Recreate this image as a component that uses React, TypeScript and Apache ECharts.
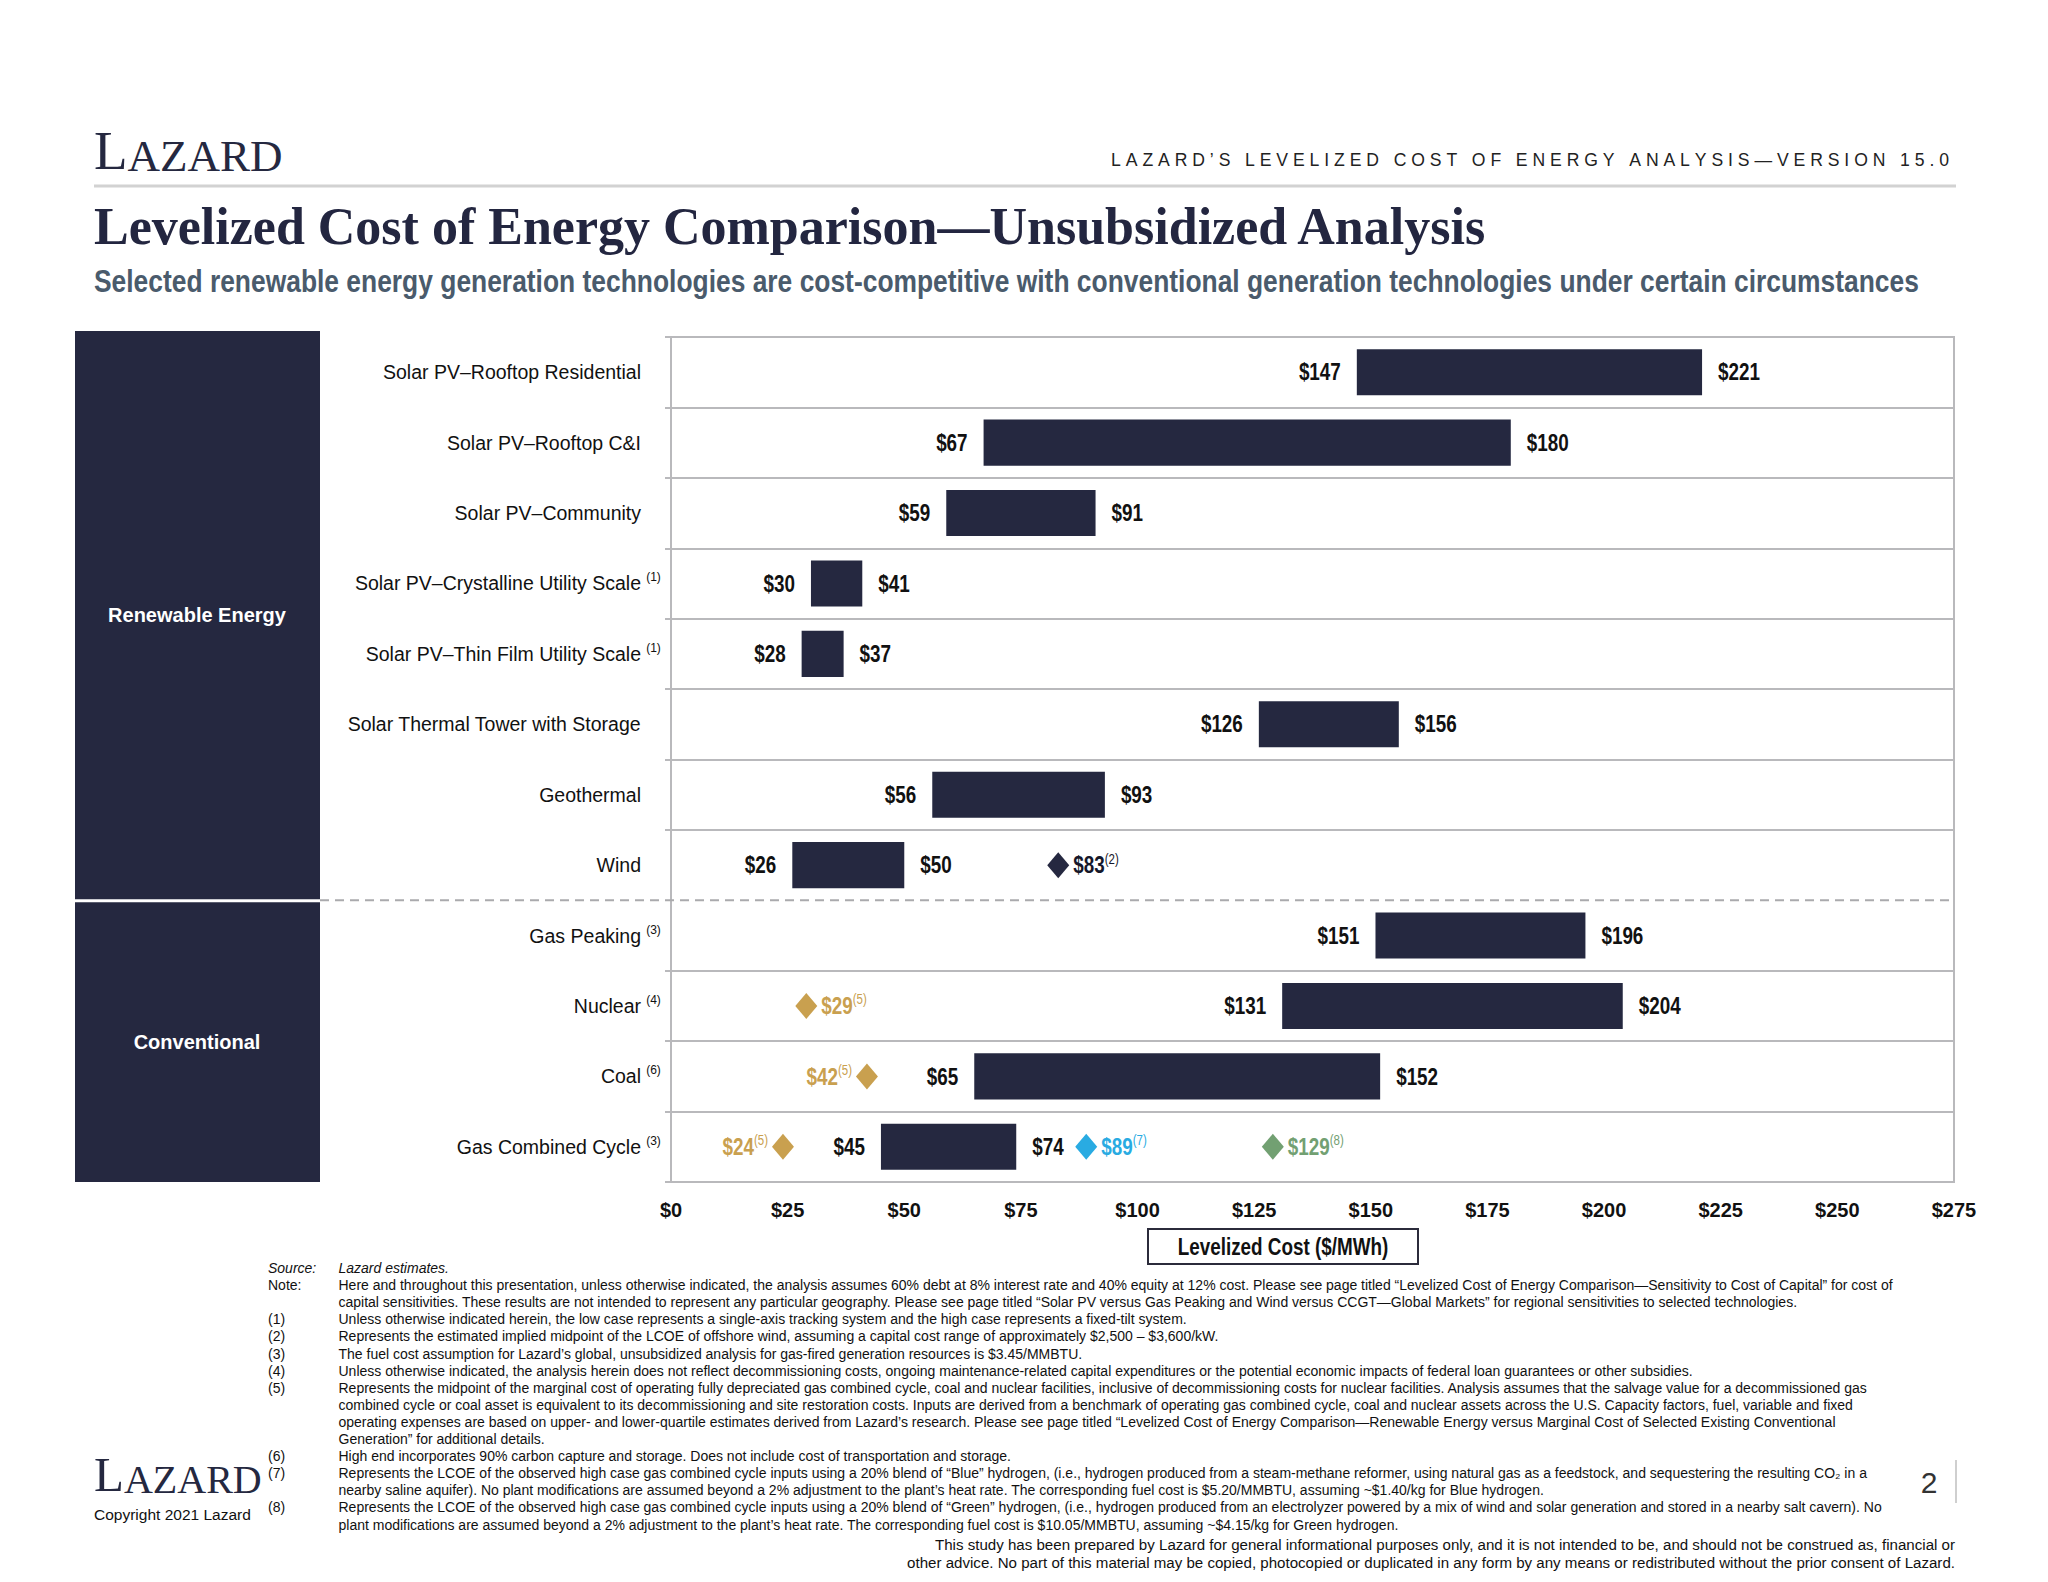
import React, { useEffect, useRef } from 'react';
import * as echarts from 'echarts';

// ---------------- DATA ----------------
const categories = [
  'Solar PV–Rooftop Residential',
  'Solar PV–Rooftop C&I',
  'Solar PV–Community',
  'Solar PV–Crystalline Utility Scale',
  'Solar PV–Thin Film Utility Scale',
  'Solar Thermal Tower with Storage',
  'Geothermal',
  'Wind',
  'Gas Peaking',
  'Nuclear',
  'Coal',
  'Gas Combined Cycle',
];
const categoryNotes = ['', '', '', '(1)', '(1)', '', '', '', '(3)', '(4)', '(6)', '(3)'];
const lowValues = [147, 67, 59, 30, 28, 126, 56, 26, 151, 131, 65, 45];
const highValues = [221, 180, 91, 41, 37, 156, 93, 50, 196, 204, 152, 74];

const markerCategories = ['Wind', 'Nuclear', 'Coal', 'Gas Combined Cycle', 'Gas Combined Cycle', 'Gas Combined Cycle'];
const markerValues = [83, 29, 42, 24, 89, 129];
const markerNotes = ['(2)', '(5)', '(5)', '(5)', '(7)', '(8)'];
const markerKinds = ['offshore', 'marginal', 'marginal', 'marginal', 'blueH2', 'greenH2'];

const groupNames = ['Renewable Energy', 'Conventional'];
const groupSizes = [8, 4];

const axisMin = 0;
const axisMax = 275;
const axisStep = 25;

const headerText = 'LAZARD’S LEVELIZED COST OF ENERGY ANALYSIS—VERSION 15.0';
const titleText = 'Levelized Cost of Energy Comparison—Unsubsidized Analysis';
const subtitleText =
  'Selected renewable energy generation technologies are cost-competitive with conventional generation technologies under certain circumstances';
const axisTitle = 'Levelized Cost ($/MWh)';

const footLabels = ['Source:', 'Note:', '', '(1)', '(2)', '(3)', '(4)', '(5)', '', '', '', '(6)', '(7)', '', '(8)', ''];
const footLines = [
  'Lazard estimates.',
  'Here and throughout this presentation, unless otherwise indicated, the analysis assumes 60% debt at 8% interest rate and 40% equity at 12% cost. Please see page titled “Levelized Cost of Energy Comparison—Sensitivity to Cost of Capital” for cost of',
  'capital sensitivities. These results are not intended to represent any particular geography. Please see page titled “Solar PV versus Gas Peaking and Wind versus CCGT—Global Markets” for regional sensitivities to selected technologies.',
  'Unless otherwise indicated herein, the low case represents a single-axis tracking system and the high case represents a fixed-tilt system.',
  'Represents the estimated implied midpoint of the LCOE of offshore wind, assuming a capital cost range of approximately $2,500 – $3,600/kW.',
  'The fuel cost assumption for Lazard’s global, unsubsidized analysis for gas-fired generation resources is $3.45/MMBTU.',
  'Unless otherwise indicated, the analysis herein does not reflect decommissioning costs, ongoing maintenance-related capital expenditures or the potential economic impacts of federal loan guarantees or other subsidies.',
  'Represents the midpoint of the marginal cost of operating fully depreciated gas combined cycle, coal and nuclear facilities, inclusive of decommissioning costs for nuclear facilities. Analysis assumes that the salvage value for a decommissioned gas',
  'combined cycle or coal asset is equivalent to its decommissioning and site restoration costs. Inputs are derived from a benchmark of operating gas combined cycle, coal and nuclear assets across the U.S. Capacity factors, fuel, variable and fixed',
  'operating expenses are based on upper- and lower-quartile estimates derived from Lazard’s research. Please see page titled “Levelized Cost of Energy Comparison—Renewable Energy versus Marginal Cost of Selected Existing Conventional',
  'Generation” for additional details.',
  'High end incorporates 90% carbon capture and storage. Does not include cost of transportation and storage.',
  'Represents the LCOE of the observed high case gas combined cycle inputs using a 20% blend of “Blue” hydrogen, (i.e., hydrogen produced from a steam-methane reformer, using natural gas as a feedstock, and sequestering the resulting CO₂ in a',
  'nearby saline aquifer). No plant modifications are assumed beyond a 2% adjustment to the plant’s heat rate. The corresponding fuel cost is $5.20/MMBTU, assuming ~$1.40/kg for Blue hydrogen.',
  'Represents the LCOE of the observed high case gas combined cycle inputs using a 20% blend of “Green” hydrogen, (i.e., hydrogen produced from an electrolyzer powered by a mix of wind and solar generation and stored in a nearby salt cavern). No',
  'plant modifications are assumed beyond a 2% adjustment to the plant’s heat rate. The corresponding fuel cost is $10.05/MMBTU, assuming ~$4.15/kg for Green hydrogen.',
];
const disclaimerLines = [
  'This study has been prepared by Lazard for general informational purposes only, and it is not intended to be, and should not be construed as, financial or',
  'other advice. No part of this material may be copied, photocopied or duplicated in any form by any means or redistributed without the prior consent of Lazard.',
];
const copyrightText = 'Copyright 2021 Lazard';
const pageNumber = '2';

// ---------------- STYLE ----------------
const NAVY = '#252840';
const GRIDLINE = '#b9b9bc';
const SANS = "'Liberation Sans', Arial, sans-serif";
const SERIF = "'Liberation Serif', 'Times New Roman', serif";
const NARROW_SX = 0.82; // Arial Narrow ≈ Arial compressed horizontally
const kindColors: Record<string, string> = {
  offshore: NAVY,
  marginal: '#C9A04F',
  blueH2: '#29ABE2',
  greenH2: '#72A072',
};
const kindLabelColors: Record<string, string> = {
  offshore: '#15172a',
  marginal: '#C9A04F',
  blueH2: '#29ABE2',
  greenH2: '#72A072',
};

const W = 2048;
const H = 1582;
const G = { left: 671, top: 337, width: 1283, height: 845 };
const rowH = G.height / categories.length;

function txt(x: number, y: number, text: string, o: any = {}) {
  const align = o.align || 'left';
  const va = o.va || 'middle';
  return {
    type: 'text',
    x,
    y,
    scaleX: o.sx || 1,
    silent: true,
    style: {
      text,
      fill: o.fill || '#111',
      fontSize: o.size || 13,
      fontFamily: o.family || SANS,
      fontWeight: o.weight || 'normal',
      fontStyle: o.style || 'normal',
      align,
      textAlign: align,
      verticalAlign: va,
      textVerticalAlign: va,
    },
  };
}

function spaced(s: string) {
  return s.split('').join('\u00A0');
}

function logo(x: number, yBottom: number, big: number, small: number) {
  return {
    type: 'text',
    x,
    y: yBottom,
    silent: true,
    style: {
      text: '{a|L}{b|AZARD}',
      align: 'left',
      verticalAlign: 'bottom',
      textAlign: 'left',
      textVerticalAlign: 'bottom',
      rich: {
        a: { fontSize: big, fontFamily: SERIF, fill: NAVY, color: NAVY, verticalAlign: 'bottom', lineHeight: big },
        b: { fontSize: small, fontFamily: SERIF, fill: NAVY, color: NAVY, verticalAlign: 'bottom', lineHeight: big },
      },
    },
  };
}

function buildOption() {
  const graphics: any[] = [];

  // header
  graphics.push(logo(94, 178, 55, 45));
  graphics.push(txt(1949, 160, spaced(headerText), { align: 'right', size: 17.6, fill: '#222' }));
  graphics.push({
    type: 'line',
    silent: true,
    shape: { x1: 94, y1: 186, x2: 1956, y2: 186 },
    style: { stroke: '#d2d2d2', lineWidth: 3 },
  });
  graphics.push(txt(94, 226, titleText, { size: 52, family: SERIF, weight: 'bold', fill: '#232640' }));
  graphics.push(txt(94, 281, subtitleText, { size: 31, weight: 'bold', fill: '#4A5B6C', sx: 0.852 }));

  // group boxes
  let startRow = 0;
  groupNames.forEach((name, gi) => {
    const y0 = gi === 0 ? G.top - 6 : G.top + startRow * rowH + 2;
    const y1 = gi === 0 ? G.top + (startRow + groupSizes[gi]) * rowH - 1 : G.top + (startRow + groupSizes[gi]) * rowH;
    graphics.push({
      type: 'rect',
      silent: true,
      shape: { x: 75, y: y0, width: 245, height: y1 - y0 },
      style: { fill: NAVY },
    });
    graphics.push(txt(197, (y0 + y1) / 2, name, { align: 'center', size: 20, weight: 'bold', fill: '#fff' }));
    startRow += groupSizes[gi];
  });
  // dashed separator between groups
  const sepY = G.top + groupSizes[0] * rowH;
  graphics.push({
    type: 'line',
    silent: true,
    z: 100,
    shape: { x1: 320, y1: sepY, x2: G.left + G.width, y2: sepY },
    style: { stroke: '#aaaaad', lineWidth: 2, lineDash: [9, 6] },
  });

  // axis title box
  graphics.push({
    type: 'rect',
    silent: true,
    shape: { x: 1148, y: 1229, width: 270, height: 35 },
    style: { fill: '#fff', stroke: '#2b2b3b', lineWidth: 2 },
  });
  graphics.push(txt(1283, 1247, axisTitle, { align: 'center', size: 23, weight: 'bold', fill: '#111', sx: NARROW_SX }));

  // footnotes
  footLines.forEach((line, i) => {
    const y = 1268 + i * 17.1;
    const it = i === 0 ? 'italic' : 'normal';
    if (footLabels[i]) graphics.push(txt(268, y, footLabels[i], { size: 14, style: it }));
    graphics.push(txt(338.5, y, line, { size: 14, style: it }));
  });
  disclaimerLines.forEach((line, i) => {
    graphics.push(txt(1955, 1544 + i * 18.5, line, { align: 'right', size: 15.1 }));
  });

  // bottom logo + copyright + page number
  graphics.push(logo(94, 1499, 49, 40));
  graphics.push(txt(94, 1514, copyrightText, { size: 15.5 }));
  graphics.push(txt(1929, 1482, pageNumber, { align: 'center', size: 30, fill: '#333' }));
  graphics.push({
    type: 'line',
    silent: true,
    shape: { x1: 1956, y1: 1460, x2: 1956, y2: 1503 },
    style: { stroke: '#cfcfcf', lineWidth: 2 },
  });

  const barData = categories.map((_, i) => [i, lowValues[i], highValues[i]]);
  const markerData = markerValues.map((v, i) => [v, categories.indexOf(markerCategories[i]), i]);

  const boundaryInterval = (index: number) => index !== groupSizes[0];

  const valueTextStyle = {
    fontSize: 23,
    fontWeight: 'bold',
    fontFamily: SANS,
    fill: '#111',
    verticalAlign: 'middle',
    textVerticalAlign: 'middle',
  };

  return {
    animation: false,
    backgroundColor: '#ffffff',
    grid: {
      left: G.left,
      top: G.top,
      width: G.width,
      height: G.height,
      show: true,
      backgroundColor: '#ffffff',
      borderColor: GRIDLINE,
      borderWidth: 2,
      containLabel: false,
      outerBoundsMode: 'none',
    },
    xAxis: {
      type: 'value',
      min: axisMin,
      max: axisMax,
      interval: axisStep,
      axisLine: { show: false },
      axisTick: { show: false },
      splitLine: { show: false },
      axisLabel: {
        formatter: (v: number) => '$' + v,
        margin: 18,
        fontSize: 20,
        fontWeight: 'bold',
        fontFamily: SANS,
        color: '#111',
      },
    },
    yAxis: {
      type: 'category',
      data: categories,
      inverse: true,
      axisLine: { show: true, lineStyle: { color: GRIDLINE, width: 2 } },
      axisTick: { show: true, length: 6, interval: boundaryInterval, lineStyle: { color: GRIDLINE, width: 2 } },
      splitLine: { show: true, interval: boundaryInterval, lineStyle: { color: GRIDLINE, width: 2 } },
      axisLabel: {
        margin: 7,
        interval: 0,
        formatter: (value: string, index: number) =>
          `{n|${value}}{s|${categoryNotes[index] || '\u00A0'}}`,
        rich: {
          n: { fontSize: 19.5, fontFamily: SANS, color: '#111', lineHeight: 24 },
          s: { fontSize: 12, fontFamily: SANS, color: '#111', verticalAlign: 'top', lineHeight: 12, width: 21, align: 'left', padding: [0, 0, 0, 2] },
        },
      },
    },
    graphic: { elements: graphics },
    series: [
      {
        type: 'custom',
        name: 'LCOE range',
        data: barData,
        encode: { x: [1, 2], y: 0 },
        renderItem: (params: any, api: any) => {
          const ci = api.value(0);
          const lo = api.value(1);
          const hi = api.value(2);
          const a = api.coord([lo, ci]);
          const b = api.coord([hi, ci]);
          const band = api.size([0, 1])[1];
          const h = band * 0.655;
          return {
            type: 'group',
            children: [
              {
                type: 'rect',
                shape: { x: a[0], y: a[1] - h / 2, width: b[0] - a[0], height: h },
                style: { fill: NAVY },
              },
              {
                type: 'text',
                x: a[0] - 16,
                y: a[1],
                scaleX: NARROW_SX,
                style: { ...valueTextStyle, text: '$' + lo, align: 'right', textAlign: 'right' },
              },
              {
                type: 'text',
                x: b[0] + 16,
                y: a[1],
                scaleX: NARROW_SX,
                style: { ...valueTextStyle, text: '$' + hi, align: 'left', textAlign: 'left' },
              },
            ],
          };
        },
        z: 3,
      },
      {
        type: 'custom',
        name: 'Reference points',
        data: markerData,
        encode: { x: 0, y: 1 },
        renderItem: (params: any, api: any) => {
          const v = api.value(0);
          const ci = api.value(1);
          const i = api.value(2);
          const kind = markerKinds[i];
          const p = api.coord([v, ci]);
          const barLow = lowValues[ci];
          const side = v < barLow && barLow - v < 30 ? 'left' : 'right';
          const c = kindLabelColors[kind];
          const hw = 11;
          const hh = 13;
          return {
            type: 'group',
            children: [
              {
                type: 'polygon',
                shape: { points: [[p[0], p[1] - hh], [p[0] + hw, p[1]], [p[0], p[1] + hh], [p[0] - hw, p[1]]] },
                style: { fill: kindColors[kind] },
              },
              {
                type: 'text',
                x: side === 'left' ? p[0] - hw - 4 : p[0] + hw + 4,
                y: p[1],
                scaleX: NARROW_SX,
                style: {
                  text: `{v|$${v}}{s|${markerNotes[i]}}`,
                  align: side === 'left' ? 'right' : 'left',
                  textAlign: side === 'left' ? 'right' : 'left',
                  verticalAlign: 'middle',
                  textVerticalAlign: 'middle',
                  rich: {
                    v: { fontSize: 23, fontWeight: 'bold', fontFamily: SANS, fill: c, color: c, lineHeight: 27 },
                    s: { fontSize: 14, fontFamily: SANS, fill: c, color: c, verticalAlign: 'top', lineHeight: 14 },
                  },
                },
              },
            ],
          };
        },
        z: 4,
      },
    ],
  };
}

export default function App() {
  const ref = useRef<HTMLDivElement>(null);
  useEffect(() => {
    document.body.style.margin = '0';
    document.body.style.overflow = 'hidden';
    const chart = echarts.init(ref.current!, undefined, { renderer: 'svg', width: W, height: H });
    chart.setOption(buildOption() as any);
    return () => chart.dispose();
  }, []);
  return (
    <div
      ref={ref}
      style={{ position: 'absolute', left: 0, top: 0, width: W, height: H, background: '#fff' }}
    />
  );
}
